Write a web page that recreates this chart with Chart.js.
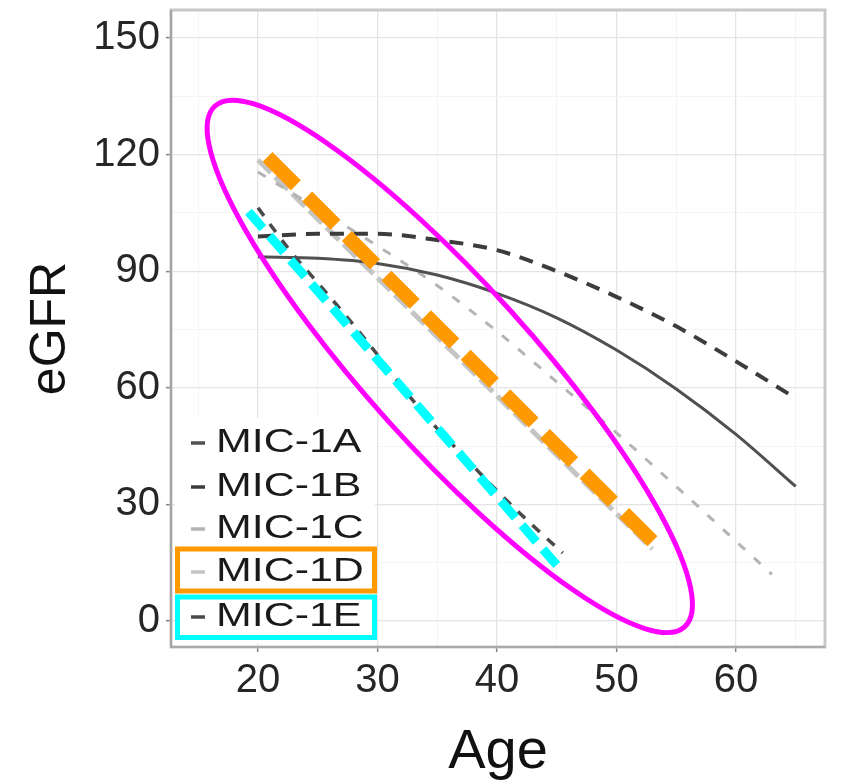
<!DOCTYPE html>
<html><head><meta charset="utf-8">
<script src="https://cdn.jsdelivr.net/npm/chart.js@4/dist/chart.umd.min.js"></script>
<style>html,body{margin:0;padding:0;background:#fff;}canvas{display:block;}</style>
</head><body>
<canvas id="c" width="843" height="781"></canvas>
<script>
// ---------- data ----------
const seriesNames = ['MIC-1A', 'MIC-1B', 'MIC-1C', 'MIC-1D', 'MIC-1E'];
const agesA = [20, 25, 30, 35, 40, 45, 50, 55, 60, 65];
const egfrA = [93.7, 93.3, 92, 89, 84.3, 78, 69.7, 59.7, 48, 34.6];
const agesB = [20, 25, 30, 35, 40, 45, 50, 55, 60, 65];
const egfrB = [98.9, 99.6, 99.6, 98, 95.4, 90, 83.4, 75.8, 66.8, 57.3];
const agesC = [20, 25, 30, 35, 40, 45, 50, 55, 60, 63];
const egfrC = [115.5, 106, 96.5, 86.3, 74.5, 61.5, 48.4, 34.6, 20.5, 12];
const agesD = [20, 25, 30, 35, 40, 45, 50, 53];
const egfrD = [118.6, 103.4, 88.3, 73.1, 57.9, 42.7, 27.6, 18.5];
const agesE = [20, 22.5, 25, 27.5, 30, 32.5, 35, 37.5, 40, 42.5, 45.5];
const egfrE = [106.3, 96, 87, 78, 68.5, 58.5, 49.5, 41.5, 33.5, 26, 17.5];
// highlight overlays drawn on top of the chart
const orangeAges = [20.8, 53.6];
const orangeEgfr = [119.4, 18.7];
const cyanAges = [19.2, 45.0];
const cyanEgfr = [105.3, 14.4];
const ellipseAges = [16.4, 55.7];   // ends of the ellipse's long axis
const ellipseEgfr = [132.5, -1.5];
const ellipseAxisRatio = 0.235;
// axes
const xTickValues = [15, 20, 25, 30, 35, 40, 45, 50, 55, 60, 65];
const xTickLabels = [20, 30, 40, 50, 60];
const yTickValues = [0, 15, 30, 45, 60, 75, 90, 105, 120, 135, 150];
const yTickLabels = [0, 30, 60, 90, 120, 150];
const xRange = [12.72, 67.45];
const yRange = [-6.7, 157.2];

const pts = (xs, ys) => xs.map((x, i) => ({x: x, y: ys[i]}));

const seriesStyle = [
  {color: '#505050', width: 3, dash: []},
  {color: '#3c3c3c', width: 4, dash: [14, 10]},
  {color: '#b4b4b4', width: 3, dash: [9, 12]},
  {color: '#c4c4c4', width: 5, dash: [18, 6]},
  {color: '#4a4a4a', width: 3.5, dash: [10, 10]}
];
const seriesData = [pts(agesA, egfrA), pts(agesB, egfrB), pts(agesC, egfrC), pts(agesD, egfrD), pts(agesE, egfrE)];

const datasets = seriesNames.map((n, i) => ({
  label: n,
  data: seriesData[i],
  borderColor: seriesStyle[i].color,
  borderWidth: seriesStyle[i].width,
  borderDash: seriesStyle[i].dash,
  cubicInterpolationMode: 'monotone',
  pointRadius: 0,
  fill: false,
  order: 2 + i
}));
datasets.push({
  label: 'highlight-orange', data: pts(orangeAges, orangeEgfr), borderColor: '#ff9900',
  borderWidth: 14, borderDash: [40, 16], borderCapStyle: 'butt', pointRadius: 0, fill: false, order: 1
});
datasets.push({
  label: 'highlight-cyan', data: pts(cyanAges, cyanEgfr), borderColor: '#00ffff',
  borderWidth: 9, borderDash: [22, 10], borderCapStyle: 'butt', pointRadius: 0, fill: false, order: 0
});

const legendRows = [443, 487, 529, 572, 617];
const FONT = '"Liberation Sans", Arial, sans-serif';

const refPlugin = {
  id: 'ref',
  beforeDraw(chart) {
    const c = chart.ctx;
    c.save(); c.fillStyle = '#fff'; c.fillRect(0, 0, chart.width, chart.height); c.restore();
  },
  beforeDatasetsDraw(chart) {
    const c = chart.ctx, a = chart.chartArea;
    c.save();
    // legend background
    c.fillStyle = '#fff';
    c.fillRect(a.left + 4, 418, 200, a.bottom - 4 - 418);
    // panel border
    c.strokeStyle = '#c8c8c8'; c.lineWidth = 3;
    c.strokeRect(a.left, a.top, a.right - a.left, a.bottom - a.top);
    c.strokeStyle = '#8c8c8c'; c.lineWidth = 1.2;
    c.beginPath(); c.moveTo(a.left, a.top); c.lineTo(a.left, a.bottom); c.lineTo(a.right, a.bottom); c.stroke();
    c.restore();
  },
  afterDatasetsDraw(chart) {
    const c = chart.ctx;
    c.save();
    seriesNames.forEach((n, i) => {
      const y = legendRows[i];
      c.strokeStyle = seriesStyle[i].color; c.lineWidth = 3.5; c.setLineDash([]);
      c.beginPath(); c.moveTo(191, y); c.lineTo(205, y); c.stroke();
      c.save();
      c.translate(216, y); c.scale(1.3, 1);
      c.fillStyle = '#1a1a1a'; c.font = '33px ' + FONT; c.textBaseline = 'middle'; c.textAlign = 'left';
      c.fillText(n, 0, 0);
      c.restore();
    });
    c.restore();
  },
  afterDraw(chart) {
    const c = chart.ctx, xs = chart.scales.x, ys = chart.scales.y;
    c.save();
    // boxes round the MIC-1D and MIC-1E legend rows
    c.lineWidth = 5; c.setLineDash([]);
    c.strokeStyle = '#ff9900';
    c.strokeRect(177.5, legendRows[3] - 23, 197, 42);
    c.strokeStyle = '#00ffff';
    c.strokeRect(177.5, legendRows[4] - 20, 197, 40.5);
    // ellipse round the steep lines
    const x1 = xs.getPixelForValue(ellipseAges[0]), y1 = ys.getPixelForValue(ellipseEgfr[0]);
    const x2 = xs.getPixelForValue(ellipseAges[1]), y2 = ys.getPixelForValue(ellipseEgfr[1]);
    const cx = (x1 + x2) / 2, cy = (y1 + y2) / 2;
    const ra = Math.hypot(x2 - x1, y2 - y1) / 2, rb = ra * ellipseAxisRatio;
    const ang = Math.atan2(y2 - y1, x2 - x1);
    c.strokeStyle = '#ff00ff'; c.lineWidth = 5;
    c.beginPath(); c.ellipse(cx, cy, ra, rb, ang, 0, Math.PI * 2); c.stroke();
    c.restore();
  }
};

const gridColor = major => major ? '#e4e4e4' : '#f1f1f1';
const noPadX = s => { s.height = 134; s.paddingLeft = 0; s.paddingRight = 0; };
const noPadY = s => { s.width = 171; s.paddingTop = 0; s.paddingBottom = 0; };

new Chart(document.getElementById('c'), {
  type: 'line',
  data: {datasets: datasets},
  options: {
    responsive: false,
    devicePixelRatio: 1,
    animation: false,
    layout: {padding: {left: 0, right: 18, top: 10, bottom: 0}},
    plugins: {legend: {display: false}, tooltip: {enabled: false}},
    scales: {
      x: {
        type: 'linear', min: xRange[0], max: xRange[1],
        afterBuildTicks: s => { s.ticks = xTickValues.map(v => ({value: v})); },
        afterFit: noPadX,
        border: {display: false},
        grid: {
          color: ctx => gridColor(xTickLabels.includes(ctx.tick && ctx.tick.value)),
          lineWidth: ctx => xTickLabels.includes(ctx.tick && ctx.tick.value) ? 1.3 : 0.8,
          tickLength: 5,
          tickColor: ctx => xTickLabels.includes(ctx.tick && ctx.tick.value) ? '#808080' : 'rgba(0,0,0,0)',
          tickWidth: 1.5
        },
        ticks: {
          autoSkip: false, maxRotation: 0, padding: 5,
          color: '#262626', font: {family: FONT, size: 40},
          callback: v => xTickLabels.includes(v) ? String(v) : ''
        },
        title: {display: true, text: 'Age', color: '#111', font: {family: FONT, size: 56, lineHeight: 1}, padding: {top: 0, bottom: 0}}
      },
      y: {
        type: 'linear', min: yRange[0], max: yRange[1],
        afterBuildTicks: s => { s.ticks = yTickValues.map(v => ({value: v})); },
        afterFit: noPadY,
        border: {display: false},
        grid: {
          color: ctx => gridColor(yTickLabels.includes(ctx.tick && ctx.tick.value)),
          lineWidth: ctx => yTickLabels.includes(ctx.tick && ctx.tick.value) ? 1.3 : 0.8,
          tickLength: 5,
          tickColor: ctx => yTickLabels.includes(ctx.tick && ctx.tick.value) ? '#808080' : 'rgba(0,0,0,0)',
          tickWidth: 1.5
        },
        ticks: {
          autoSkip: false, padding: 6,
          color: '#262626', font: {family: FONT, size: 40},
          callback: v => yTickLabels.includes(v) ? String(v) : ''
        },
        title: {display: true, text: 'eGFR', color: '#111', font: {family: FONT, size: 50, lineHeight: 1}, padding: {top: 26, bottom: 0}}
      }
    }
  },
  plugins: [refPlugin]
});
</script>
</body></html>
